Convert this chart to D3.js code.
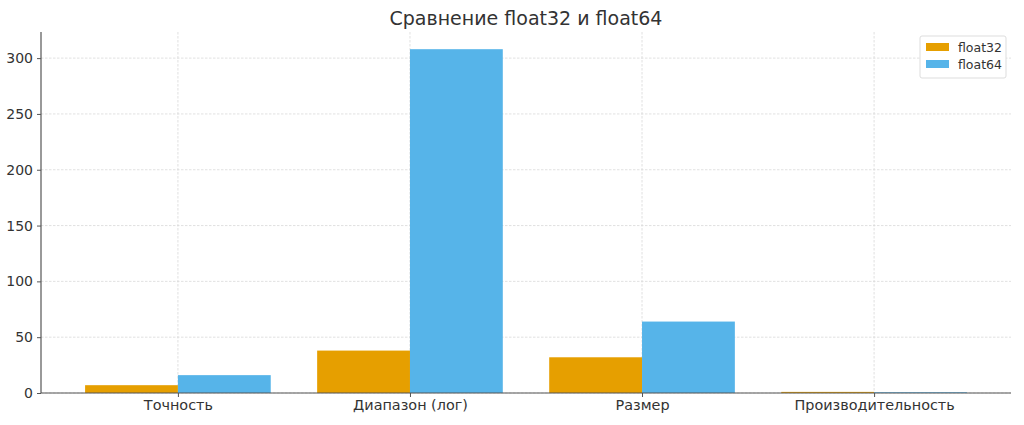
<!DOCTYPE html>
<html><head><meta charset="utf-8">
<script src="https://cdn.jsdelivr.net/npm/d3@7"></script>
<style>body{margin:0;background:#fff}svg{display:block}text{font-family:"DejaVu Sans",sans-serif}</style>
</head><body><svg id="c" width="1024" height="425"></svg>
<script>
const categories = ["Точность", "Диапазон (лог)", "Размер", "Производительность"];
const seriesNames = ["float32", "float64"];
const float32 = [7, 38, 32, 1];
const float64 = [16, 308, 64, 0.7];
const yTicks = [0, 50, 100, 150, 200, 250, 300];
const colors = ["#E69F00", "#56B4E9"];
const title = "Сравнение float32 и float64";

const svg = d3.select("#c");
const L = 41, R = 1011, T = 32, B = 393;
const x = d3.scaleLinear().domain([-0.59, 3.59]).range([L, R]);
const y = d3.scaleLinear().domain([0, 323.4]).range([B, T]);
const bw = 0.4;

// grid
svg.append("g").selectAll("line").data(yTicks).join("line")
  .attr("x1", L).attr("x2", R).attr("y1", d => y(d)).attr("y2", d => y(d))
  .attr("stroke", "#d9d9d9").attr("stroke-width", 0.8).attr("stroke-dasharray", "2.5,1.5");
svg.append("g").selectAll("line").data(categories).join("line")
  .attr("x1", (d, i) => x(i)).attr("x2", (d, i) => x(i)).attr("y1", T).attr("y2", B)
  .attr("stroke", "#d9d9d9").attr("stroke-width", 0.8).attr("stroke-dasharray", "2.5,1.5");

// bars
const series = [float32, float64];
series.forEach((vals, s) => {
  svg.append("g").selectAll("rect").data(vals).join("rect")
    .attr("x", (d, i) => x(i + (s === 0 ? -bw : 0)))
    .attr("width", x(bw) - x(0))
    .attr("y", d => y(d))
    .attr("height", d => y(0) - y(d))
    .attr("fill", colors[s]);
});

// axes
const yAxis = d3.axisLeft(y).tickValues(yTicks).tickSize(4).tickPadding(4);
const gy = svg.append("g").attr("transform", `translate(${L},0)`).call(yAxis);
gy.select(".domain").attr("d", `M0,${T}V${B}`);
const xAxis = d3.axisBottom(x).tickValues([0,1,2,3]).tickFormat(i => categories[i]).tickSize(4).tickPadding(3);
const gx = svg.append("g").attr("transform", `translate(0,${B})`).call(xAxis);
gx.select(".domain").attr("d", `M${L},0H${R}`);
[gx, gy].forEach(g => {
  g.select(".domain").attr("stroke", "#555").attr("stroke-width", 1.2);
  g.selectAll(".tick line").attr("stroke", "#555");
  g.selectAll(".tick text").attr("fill", "#333").style("font-size", "14px");
});
gx.selectAll(".tick text").style("font-size", "14.4px");

// title
svg.append("text").attr("x", 526).attr("y", 25).attr("text-anchor", "middle")
  .style("font-size", "19px").attr("fill", "#333").text(title);

// legend
const lg = svg.append("g").attr("transform", "translate(920,36)");
lg.append("rect").attr("width", 86).attr("height", 42).attr("rx", 2)
  .attr("fill", "#fff").attr("stroke", "#ddd");
seriesNames.forEach((n, i) => {
  lg.append("rect").attr("x", 6).attr("y", 7 + i * 17).attr("width", 23).attr("height", 8).attr("fill", colors[i]);
  lg.append("text").attr("x", 38).attr("y", 15.5 + i * 17).style("font-size", "12.5px").attr("fill", "#333").text(n);
});
</script></body></html>
